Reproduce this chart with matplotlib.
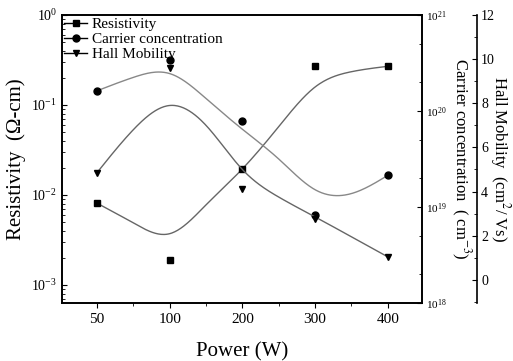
import numpy as np
import matplotlib
matplotlib.use("Agg")
import matplotlib.pyplot as plt
from matplotlib.ticker import LogLocator, MultipleLocator, NullFormatter

plt.rcParams['font.family'] = ['Liberation Serif', 'DejaVu Serif']
plt.rcParams['mathtext.fontset'] = 'stix'

# measured points
power = ['50', '100', '200', '300', '400']
resistivity = [8.1e-3, 1.9e-3, 1.95e-2, 0.27, 0.27]
carrier = [1.6e20, 3.4e20, 7.9e19, 8.3e18, 2.15e19]
mobility = [4.85, 9.6, 4.1, 2.75, 1.05]

# smoothed fit curves, read at half-step positions
fit_pos = [0, 0.5, 1, 1.5, 2, 2.5, 3, 3.5, 4]
resistivity_fit_log = [-2.09, -2.31, -2.43, -2.11, -1.71, -1.24, -0.8, -0.63, -0.57]
carrier_fit_log = [20.21, 20.35, 20.39, 20.13, 19.81, 19.5, 19.18, 19.14, 19.33]
mobility_fit = [4.85, 6.8, 7.9, 7.0, 5.0, 3.75, 2.85, 1.95, 1.04]

x = np.arange(len(power))
xs = np.linspace(0, 4, 300)

def smooth(vals):
    # natural cubic spline through the read curve points
    t = np.array(fit_pos, float)
    y = np.array(vals, float)
    n = len(t)
    h = np.diff(t)
    A = np.zeros((n, n))
    b = np.zeros(n)
    A[0, 0] = A[-1, -1] = 1
    for i in range(1, n - 1):
        A[i, i - 1] = h[i - 1]
        A[i, i] = 2 * (h[i - 1] + h[i])
        A[i, i + 1] = h[i]
        b[i] = 6 * ((y[i + 1] - y[i]) / h[i] - (y[i] - y[i - 1]) / h[i - 1])
    M = np.linalg.solve(A, b)
    k = np.clip(np.searchsorted(t, xs) - 1, 0, n - 2)
    d = xs - t[k]
    hk = h[k]
    a = (M[k + 1] - M[k]) / (6 * hk)
    bb = M[k] / 2
    c = (y[k + 1] - y[k]) / hk - hk * (2 * M[k] + M[k + 1]) / 6
    return y[k] + c * d + bb * d**2 + a * d**3

fig = plt.figure(figsize=(5.13, 3.61), dpi=100)
ax = fig.add_axes([62/513, 1-303/361, 360/513, 288/361])
ax2 = ax.twinx()
ax3 = ax.twinx()
ax3.spines['right'].set_position(('axes', 415/360))

lc = '#666666'
ax.plot(xs, 10**smooth(resistivity_fit_log), color=lc, lw=1)
ax2.plot(xs, 10**smooth(carrier_fit_log), color='#888888', lw=1)
ax3.plot(xs, smooth(mobility_fit), color=lc, lw=1)

ax.plot(x, resistivity, 's', color='black', ms=5, ls='none')
ax2.plot(x, carrier, 'o', color='black', ms=5, ls='none')
ax3.plot(x, mobility, 'v', color='black', ms=5, ls='none')

ax.set_yscale('log')
ax.set_ylim(10**-3.2, 1)
ax2.set_yscale('log')
ax2.set_ylim(1e18, 1e21)
ax3.set_ylim(-1.05, 12)
ax.set_xlim(-0.48, 4.47)

ax.set_xticks(x)
ax.set_xticklabels(power)
ax.xaxis.set_minor_locator(MultipleLocator(0.5))
ax.tick_params(axis='x', which='both', direction='out', labelsize=11)
ax.tick_params(axis='y', which='both', direction='in', labelsize=10)
ax.yaxis.set_major_locator(LogLocator(base=10, numticks=10))
ax.yaxis.set_minor_locator(LogLocator(base=10, subs=np.arange(2, 10), numticks=20))
ax.yaxis.set_minor_formatter(NullFormatter())
ax2.yaxis.set_major_locator(LogLocator(base=10, numticks=10))
ax2.yaxis.set_minor_locator(LogLocator(base=10, subs=[2, 5], numticks=20))
ax2.yaxis.set_minor_formatter(NullFormatter())
ax2.tick_params(axis='y', which='both', direction='in', labelsize=8, pad=3)
ax3.set_yticks(range(0, 13, 2))
ax3.yaxis.set_minor_locator(MultipleLocator(1))
ax3.tick_params(axis='y', which='both', direction='in', labelsize=10, pad=3)

for a in (ax, ax2, ax3):
    for s in a.spines.values():
        s.set_linewidth(1.2)
ax3.spines['top'].set_visible(False)
ax3.spines['left'].set_visible(False)
ax3.spines['bottom'].set_visible(False)

ax.set_xlabel('Power (W)', fontsize=15, labelpad=12)
ax.set_ylabel('Resistivity  (Ω-cm)', fontsize=15, labelpad=4)
ax2.set_ylabel('Carrier concentration  ( cm$^{-3}$)', fontsize=12, rotation=270, labelpad=18)
ax3.set_ylabel('Hall Mobility  (cm$^2$/ Vs)', fontsize=12, rotation=270, labelpad=12)

lh = []
for m in ['s', 'o', 'v']:
    l, = ax.plot([], [], '-', marker=m, color='black', ms=5, lw=1)
    lh.append(l)
ax.legend(lh, ['Resistivity', 'Carrier concentration', 'Hall Mobility'],
          loc='upper left', frameon=False, fontsize=11, handlelength=1.5,
          handletextpad=0.3, labelspacing=0.1, borderaxespad=0.0, borderpad=0.15)

fig.savefig('out.png', dpi=100)
